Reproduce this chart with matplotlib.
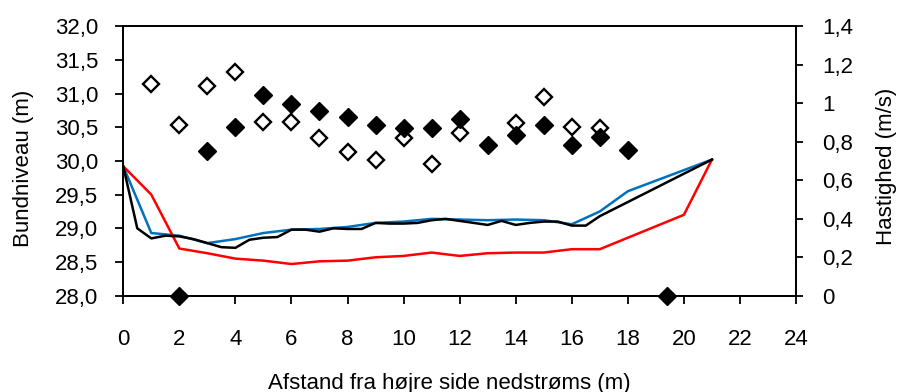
import matplotlib
matplotlib.use("Agg")
import matplotlib.pyplot as plt
from matplotlib.ticker import FuncFormatter, MultipleLocator

plt.rcParams['font.family'] = ['Liberation Sans', 'DejaVu Sans']

# Bed level profiles (m)
blue_x = [0, 1, 2, 3, 4, 5, 6, 7, 8, 9, 10, 11, 12, 13, 14, 15, 16, 17, 18, 21]
blue_y = [29.92, 28.93, 28.89, 28.78, 28.84, 28.93, 28.98, 28.99, 29.02, 29.08,
          29.10, 29.14, 29.13, 29.12, 29.13, 29.12, 29.06, 29.25, 29.55, 30.02]

red_x = [0, 1, 2, 3, 4, 5, 6, 7, 8, 9, 10, 11, 12, 13, 14, 15, 16, 17, 20, 21]
red_y = [29.92, 29.50, 28.70, 28.63, 28.55, 28.52, 28.47, 28.51, 28.52, 28.57,
         28.59, 28.64, 28.59, 28.63, 28.64, 28.64, 28.69, 28.69, 29.20, 30.02]

black_x = [0, 0.5, 1, 1.5, 2, 2.5, 3, 3.5, 4, 4.5, 5, 5.5, 6, 6.5, 7, 7.5, 8, 8.5,
           9, 9.5, 10, 10.5, 11, 11.5, 12, 12.5, 13, 13.5, 14, 14.5, 15, 15.5,
           16, 16.5, 17, 21]
black_y = [29.92, 29.00, 28.85, 28.89, 28.88, 28.84, 28.78, 28.72, 28.71, 28.83,
           28.86, 28.87, 28.98, 28.98, 28.95, 29.00, 28.99, 28.99, 29.08, 29.07,
           29.07, 29.08, 29.12, 29.14, 29.11, 29.08, 29.05, 29.11, 29.05, 29.08,
           29.10, 29.10, 29.04, 29.04, 29.18, 30.02]

# Velocities (m/s)
open_x = [1, 2, 3, 4, 5, 6, 7, 8, 9, 10, 11, 12, 14, 15, 16, 17]
open_v = [1.10, 0.884, 1.09, 1.16, 0.90, 0.904, 0.818, 0.745, 0.705, 0.818,
          0.686, 0.844, 0.896, 1.034, 0.878, 0.870]

filled_x = [2, 3, 4, 5, 6, 7, 8, 9, 10, 11, 12, 13, 14, 15, 16, 17, 18, 19.4]
filled_v = [0, 0.752, 0.878, 1.043, 0.996, 0.960, 0.930, 0.887, 0.873, 0.871,
            0.917, 0.783, 0.835, 0.884, 0.783, 0.826, 0.757, 0]

x_label = "Afstand fra højre side nedstrøms (m)"
y_label = "Bundniveau (m)"
y2_label = "Hastighed (m/s)"

fig = plt.figure(figsize=(9.01, 3.92), dpi=100)
ax = fig.add_axes([0.1368, 0.2457, 0.7467, 0.6876])
ax2 = ax.twinx()

ax.plot(blue_x, blue_y, color='#0070C0', lw=1.8)
ax.plot(red_x, red_y, color='#FF0000', lw=1.8)
ax.plot(black_x, black_y, color='black', lw=1.8)

ax2.plot(open_x, open_v, ls='none', marker='D', ms=8.5, mfc='white', mec='black',
         mew=1.7, clip_on=False, zorder=3)
ax2.plot(filled_x, filled_v, ls='none', marker='D', ms=9.2, mfc='black', mec='black',
         mew=1.0, clip_on=False, zorder=4)

ax.set_xlim(0, 24)
ax.set_ylim(28, 32)
ax2.set_ylim(0, 1.4)
ax.xaxis.set_major_locator(MultipleLocator(2))
ax.yaxis.set_major_locator(MultipleLocator(0.5))
ax2.yaxis.set_major_locator(MultipleLocator(0.2))

ax.yaxis.set_major_formatter(FuncFormatter(lambda v, p: f"{v:.1f}".replace('.', ',')))
ax2.yaxis.set_major_formatter(FuncFormatter(lambda v, p: f"{round(v, 2):g}".replace('.', ',')))

for a in (ax, ax2):
    for s in a.spines.values():
        s.set_linewidth(1.3)
        s.set_color('black')

ax.tick_params(axis='x', direction='out', length=6, width=1.3, pad=18, labelsize=16)
ax.tick_params(axis='y', direction='out', length=6, width=1.3, pad=12, labelsize=16)
ax2.tick_params(axis='y', direction='out', length=5, width=1.3, pad=14, labelsize=16)

ax.set_xlabel(x_label, fontsize=16)
ax.set_ylabel(y_label, fontsize=16)
ax2.set_ylabel(y2_label, fontsize=16)
ax.xaxis.set_label_coords(0.484, -0.324)
ax.xaxis.label.set_va('center')
ax.yaxis.set_label_coords(-0.148, 0.474)
ax.yaxis.label.set_va('center')
ax2.yaxis.set_label_coords(1.134, 0.48)
ax2.yaxis.label.set_va('center')

fig.savefig("out.png", dpi=100)
